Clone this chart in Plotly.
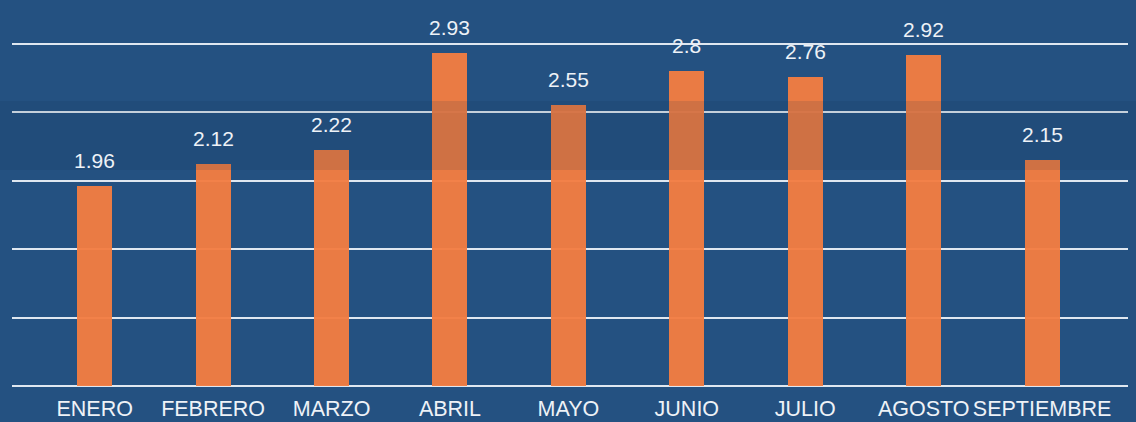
import plotly.graph_objects as go

months = ["ENERO", "FEBRERO", "MARZO", "ABRIL", "MAYO", "JUNIO", "JULIO", "AGOSTO", "SEPTIEMBRE"]
values = [1.96, 2.12, 2.22, 2.93, 2.55, 2.8, 2.76, 2.92, 2.15]
value_labels = ["1.96", "2.12", "2.22", "2.93", "2.55", "2.8", "2.76", "2.92", "2.15"]
axis_floor = 0.5

BAR_COLOR = "rgba(243,125,66,0.96)"
TEXT_COLOR = "#EEF2F7"
FONT = "Liberation Sans, Arial, sans-serif"

fig = go.Figure()
fig.add_trace(go.Bar(
    x=months, y=[v - axis_floor for v in values], base=axis_floor,
    marker=dict(color=BAR_COLOR, line=dict(width=0)),
    width=0.2955, hoverinfo="skip",
))

# value labels above bars
for m, v, t in zip(months, values, value_labels):
    fig.add_annotation(x=m, y=v, text=t, showarrow=False,
                       yanchor="bottom", yshift=12,
                       font=dict(family=FONT, size=21, color=TEXT_COLOR))

# translucent darker band across the chart
fig.add_shape(type="rect", xref="paper", yref="paper", x0=-0.02, x1=1.02,
              y0=(388 - 170) / 388, y1=(388 - 101) / 388,
              fillcolor="rgba(18,38,70,0.12)", line=dict(width=0), layer="above")

fig.update_layout(
    width=1136, height=422,
    margin=dict(l=12, r=8, t=0, b=34),
    paper_bgcolor="#245181",
    plot_bgcolor="rgba(0,0,0,0)",
    showlegend=False,
    font=dict(family=FONT, color=TEXT_COLOR),
    xaxis=dict(
        type="category", range=[-0.698, 8.725],
        showgrid=False, zeroline=False, showline=False, ticks="",
        tickfont=dict(family=FONT, size=21.5, color=TEXT_COLOR),
        ticklabelstandoff=5,
        fixedrange=True,
    ),
    yaxis=dict(
        range=[0.4854, 3.319], tick0=0.5, dtick=0.5,
        showgrid=True, gridcolor="rgba(240,244,250,0.92)", gridwidth=2.2,
        zeroline=False, showline=False, showticklabels=False, ticks="",
        fixedrange=True,
    ),
    bargap=0,
)

fig.write_html("out.html", config={"displayModeBar": False},
               post_script="document.body.style.margin='0';")
